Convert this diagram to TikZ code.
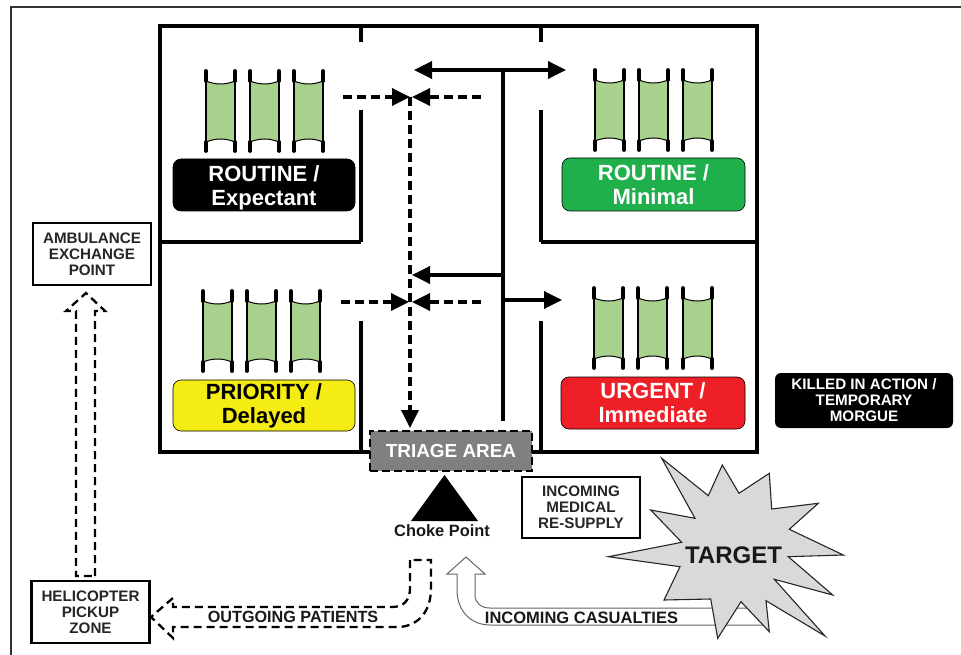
\documentclass[tikz,border=0pt]{standalone}
\usepackage{fontspec}
\setmainfont{Liberation Sans}
\usetikzlibrary{arrows.meta}
\definecolor{stretchgreen}{HTML}{A9D18E}
\definecolor{tgreen}{HTML}{1FB04C}
\definecolor{tyellow}{HTML}{F4EC12}
\definecolor{tred}{HTML}{EE1F26}
\definecolor{tgray}{HTML}{808080}
\definecolor{stargray}{HTML}{D9D9D9}
\definecolor{framegray}{HTML}{333333}
\tikzset{
  x=1pt,y=-1pt,
  wall/.style={line width=4.6pt,black},
  label box/.style={rounded corners=8pt,draw=black,line width=0.6pt,font=\bfseries\fontsize{22}{24}\selectfont,align=center,inner sep=0pt},
  info box/.style={draw=black,line width=2.6pt,fill=white,font=\bfseries\fontsize{15.2}{16}\selectfont,align=center,inner sep=0pt,text=black!85},
  solid arrow/.style={line width=3.5pt,-{Triangle[length=18pt,width=17pt]}},
  dash arrow/.style={line width=3.5pt,dash pattern=on 9pt off 5pt,-{Triangle[length=18pt,width=17pt]}},
  hollow dash/.style={line width=2.3pt,dash pattern=on 8pt off 5pt},
  hollow solid/.style={line width=1pt,draw=black!60},
}
\newcommand{\stretcherdraw}[2]{%
  \fill[stretchgreen] (#1,#2+11) .. controls (#1+10,#2+15) and (#1+19,#2+15) .. (#1+29,#2+11)
    -- (#1+29,#2+72) .. controls (#1+19,#2+68) and (#1+10,#2+68) .. (#1,#2+72) -- cycle;
  \draw[line width=1pt] (#1,#2+11) .. controls (#1+10,#2+15) and (#1+19,#2+15) .. (#1+29,#2+11);
  \draw[line width=1pt] (#1,#2+72) .. controls (#1+10,#2+68) and (#1+19,#2+68) .. (#1+29,#2+72);
  \draw[line width=1.8pt] (#1,#2+11) -- (#1,#2+72) (#1+29,#2+11) -- (#1+29,#2+72);
  \draw[line width=3.8pt,line cap=round] (#1,#2+1) -- (#1,#2+11) (#1+29,#2+1) -- (#1+29,#2+11)
    (#1,#2+72) -- (#1,#2+81) (#1+29,#2+72) -- (#1+29,#2+81);
}
\begin{document}
\begin{tikzpicture}
\useasboundingbox (0,0) rectangle (961,655);
\fill[white] (0,0) rectangle (961,655);
% outer frame
\draw[framegray,line width=2.2pt] (11,655) -- (11,7) -- (961,7);
% building
\draw[wall] (160,26) rectangle (757,452);
\draw[wall] (361,26) -- (361,42) (361,110) -- (361,242) (361,321) -- (361,452)
            (541,26) -- (541,42) (541,110) -- (541,242) (541,321) -- (541,452)
            (160,242) -- (361,242) (541,242) -- (757,242);
% stretchers
\foreach \x in {206,250,294} {\stretcherdraw{\x}{70}}
\foreach \x in {203,247,291} {\stretcherdraw{\x}{290}}
\foreach \x in {595,639,683} {\stretcherdraw{\x}{69}}
\foreach \x in {594,638,683} {\stretcherdraw{\x}{287}}
% labels
\node[label box,fill=black,text=white,minimum width=182pt,minimum height=52pt,text depth=0pt] (expectant) at (264,185) {\raisebox{-2pt}{ROUTINE /}\\\raisebox{-2pt}{Expectant}};
\node[label box,fill=tgreen,text=white,minimum width=183pt,minimum height=53pt] (minimal) at (653.5,184.5) {ROUTINE /\\Minimal};
\node[label box,fill=tyellow,text=black,minimum width=182pt,minimum height=51pt] (delayed) at (264,405.5) {\raisebox{-2.5pt}{PRIORITY /}\\\raisebox{-2.5pt}{Delayed}};
\node[label box,fill=tred,text=white,minimum width=184pt,minimum height=52pt] (immediate) at (653,403) {URGENT /\\Immediate};
\node[rounded corners=6pt,fill=black,text=white,font=\bfseries\fontsize{15.2}{16}\selectfont,align=center,minimum width=178pt,minimum height=55pt,inner sep=0pt] (kia) at (864,400.5) {KILLED IN ACTION /\\TEMPORARY\\MORGUE};
% triage
\node[fill=tgray,draw=black,line width=2.6pt,dash pattern=on 8pt off 4pt,text=white,font=\bfseries\fontsize{18.9}{22}\selectfont,minimum width=162pt,minimum height=40pt,inner sep=0pt] (triage) at (451,451) {TRIAGE AREA};
% internal arrows
\coordinate (trunkTop) at (503,70);
\coordinate (trunkBot) at (503,421);
\coordinate (leftTip) at (414,70);
\coordinate (rightTip) at (566,70);
\coordinate (upperFromL) at (343,97);
\coordinate (upperMidL) at (410,97);
\coordinate (upperFromR) at (481,97);
\coordinate (upperMidR) at (412,97);
\coordinate (lowerFromL) at (341,302);
\coordinate (lowerMidL) at (409,302);
\coordinate (lowerFromR) at (481,302);
\coordinate (lowerMidR) at (412,302);
\coordinate (branchL) at (503,275);
\coordinate (branchLTip) at (412,275);
\coordinate (branchR) at (503,300);
\coordinate (branchRTip) at (562,300);
\coordinate (dashTop) at (410,97);
\coordinate (dashBot) at (410,428);
\draw[line width=3.8pt] (trunkTop) -- (trunkBot);
\draw[solid arrow,{Triangle[length=18pt,width=17pt]}-{Triangle[length=18pt,width=17pt]}] (leftTip) -- (rightTip);
\draw[solid arrow] (branchL) -- (branchLTip);
\draw[solid arrow] (branchR) -- (branchRTip);
\draw[dash arrow] (dashTop) -- (dashBot);
\draw[dash arrow] (upperFromL) -- (upperMidL);
\draw[dash arrow] (upperFromR) -- (upperMidR);
\draw[dash arrow] (lowerFromL) -- (lowerMidL);
\draw[dash arrow] (lowerFromR) -- (lowerMidR);
% choke point
\fill[black] (444.5,475) -- (478,521) -- (411,521) -- cycle;
\node[font=\bfseries\fontsize{16.4}{18}\selectfont,text=black!90,inner sep=0pt] (choke) at (442,531) {Choke Point};
% boxes
\node[info box,minimum width=118pt,minimum height=61pt] (resupply) at (581,507.5) {INCOMING\\MEDICAL\\RE-SUPPLY};
\node[info box,minimum width=118pt,minimum height=62pt] (ambulance) at (92,254) {AMBULANCE\\EXCHANGE\\POINT};
\node[info box,minimum width=118pt,minimum height=62pt] (helicopter) at (90.5,612) {HELICOPTER\\PICKUP\\ZONE};
% dashed hollow up arrow
\coordinate (upBaseL) at (76,576);
\coordinate (upBaseR) at (95,576);
\draw[hollow dash] (upBaseR) -- (95,311) -- (105,311) -- (86,293) -- (66,311) -- (76,311) -- (upBaseL) -- cycle;
% outgoing patients
\draw[hollow dash] (410,560) -- (410,588) .. controls (410,600) and (404,607) .. (392,607)
  -- (173,607) -- (173,598) -- (151,617) -- (173,638) -- (173,627) -- (400,627)
  .. controls (420,625) and (431,610) .. (431,588) -- (431,560) -- cycle;
\node[font=\bfseries\fontsize{16.2}{18}\selectfont,text=black!90,inner sep=0pt] (outgoing) at (293,617) {OUTGOING PATIENTS};
% incoming casualties
\draw[hollow solid,fill=white] (766,625) -- (490,625) .. controls (470,625) and (457,610) .. (457,590)
  -- (457,574) -- (447,574) -- (466,557) -- (485,574) -- (475,574) -- (475,595)
  .. controls (475,603) and (481,608) .. (490,608) -- (766,608);
\node[font=\bfseries\fontsize{16.5}{18}\selectfont,text=black!90,inner sep=0pt] (casualties) at (581.5,618) {INCOMING CASUALTIES};
% target star
\draw[draw=black!85,line width=1.1pt,fill=stargray]
  (661.7,458.3) -- (708.3,495.7) -- (722.3,465) -- (739,493.3) -- (769.3,473.3) -- (771.7,509)
  -- (818.3,503.3) -- (789.3,529.3) -- (843.3,555) -- (788.3,556.7) -- (832.7,595) -- (774.3,579.3)
  -- (825,636) -- (766,600.7) -- (769.3,631.7) -- (741,601.7) -- (717.7,638.3) -- (710.7,599)
  -- (664,600) -- (680,566.7) -- (608.3,556.7) -- (681.7,542.3) -- (650.7,510) -- (695,518.3) -- cycle;
\node[font=\bfseries\fontsize{24}{26}\selectfont,text=black!90,inner sep=0pt] (target) at (733.5,555) {TARGET};
\end{tikzpicture}
\end{document}
